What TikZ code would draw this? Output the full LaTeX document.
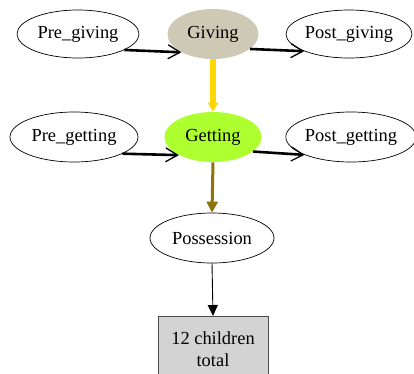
\documentclass[tikz,border=0pt]{standalone}
\usepackage{fontspec}
\setmainfont{Liberation Serif}
\usetikzlibrary{arrows.meta,shapes.geometric}
\definecolor{givingfill}{RGB}{205,201,181}
\definecolor{gettingfill}{RGB}{173,255,47}
\definecolor{goldline}{RGB}{255,215,0}
\definecolor{oliveline}{RGB}{140,115,10}
\definecolor{boxfill}{RGB}{211,211,211}
\tikzset{
  x=1bp, y=-1bp,
  stage/.style={ellipse, draw=black, line width=0.7bp, inner sep=0pt,
    font=\fontsize{18.5}{22}\selectfont},
  flow/.style={line width=2.6bp, draw=black, -{Straight Barb[length=12bp,width=14bp,line width=1.3bp]}},
}
\begin{document}
\begin{tikzpicture}
\useasboundingbox (0,0) rectangle (414,374);
% top row
\node[stage, minimum width=122bp, minimum height=48bp] (pg) at (78,34) {Pre\_giving};
\node[stage, draw=none, fill=givingfill, minimum width=91bp, minimum height=50bp] (g) at (213,34) {Giving};
\node[stage, minimum width=126bp, minimum height=48bp] (postg) at (349,34) {Post\_giving};
% middle row
\node[stage, minimum width=128bp, minimum height=50bp] (pget) at (74,137) {Pre\_getting};
\node[stage, draw=none, fill=gettingfill, minimum width=97bp, minimum height=50bp] (get) at (213,137) {Getting};
\node[stage, minimum width=126bp, minimum height=50bp] (postget) at (351,137) {Post\_getting};
% lower part
\node[stage, minimum width=124bp, minimum height=50bp] (poss) at (212,238) {Possession};
\node[draw=black!70, line width=0.8bp, fill=boxfill, minimum width=110bp, minimum height=66bp,
  align=center, font=\fontsize{18.5}{22}\selectfont, anchor=north] (total) at (213,316) {12 children\\total};
% connectors
\draw[flow] (pg.-19) -- (g.-150);
\draw[flow] (g.-22) -- (postg.-159);
\draw[flow] (pget.-19) -- (get.-152);
\draw[flow] (get.-20) -- (postget.-159);
\draw[goldline, line width=6bp, -{Triangle[length=9bp,width=10bp]}] (g.south) -- (get.north);
\draw[oliveline, line width=3bp, -{Triangle[length=11bp,width=11bp]}] (get.south) -- (poss.north);
\draw[black, line width=0.9bp, -{Triangle[length=11bp,width=10bp]}] (poss.south) -- (total.north);
\end{tikzpicture}
\end{document}
